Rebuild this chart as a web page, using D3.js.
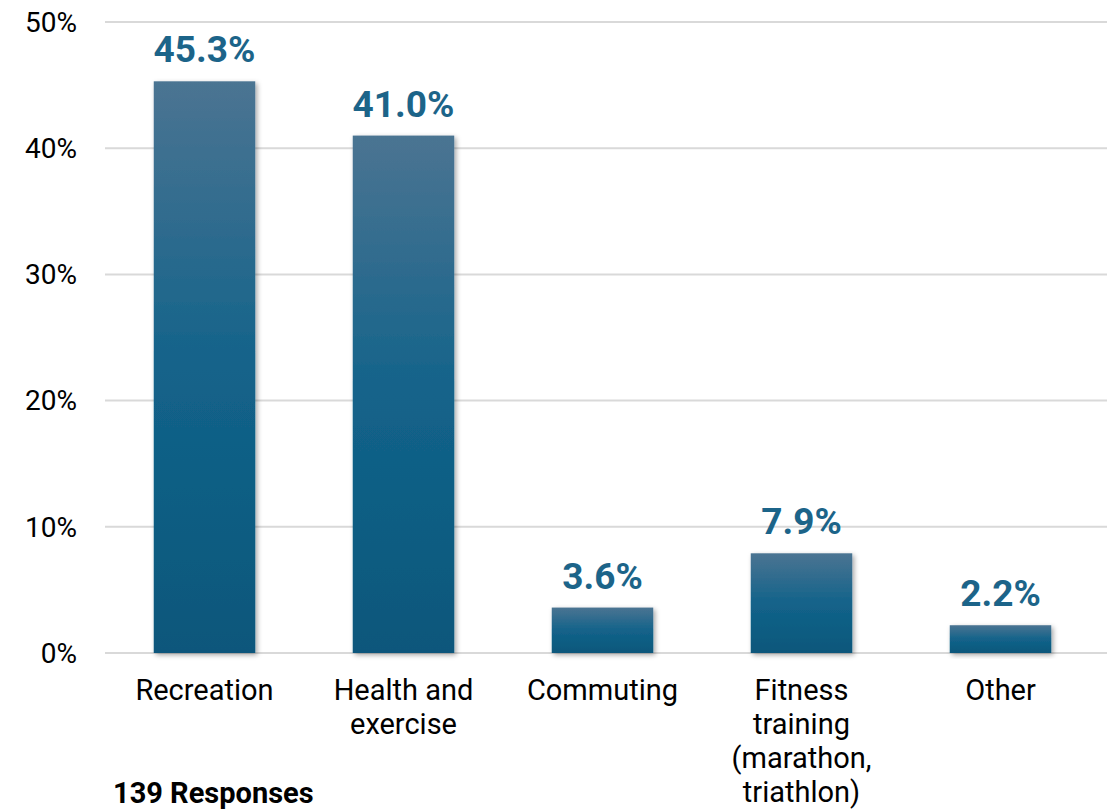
<!DOCTYPE html>
<html>
<head>
<meta charset="utf-8">
<script src="https://cdn.jsdelivr.net/npm/d3@7"></script>
<style>
  body { margin: 0; background: #fff; }
  svg { display: block; font-family: Roboto, sans-serif; }
</style>
</head>
<body>
<svg id="chart" width="1107" height="811"></svg>
<script>
var categories = ["Recreation", "Health and\nexercise", "Commuting", "Fitness\ntraining\n(marathon,\ntriathlon)", "Other"];
var values = [45.3, 41.0, 3.6, 7.9, 2.2];
var yTicks = [0, 10, 20, 30, 40, 50];
var note = "139 Responses";

var svg = d3.select("#chart");

var x = d3.scaleBand()
  .domain(categories)
  .range([105, 1100])
  .paddingInner(0.49)
  .paddingOuter(0.245);

var y = d3.scaleLinear()
  .domain([0, 50])
  .range([653, 22]);

var defs = svg.append("defs");
var grad = defs.append("linearGradient")
  .attr("id", "barGrad")
  .attr("x1", 0).attr("y1", 0).attr("x2", 0).attr("y2", 1);
grad.append("stop").attr("offset", "0%").attr("stop-color", "#4b7492");
grad.append("stop").attr("offset", "50%").attr("stop-color", "#13638a");
grad.append("stop").attr("offset", "100%").attr("stop-color", "#0a577b");

var shadow = defs.append("filter")
  .attr("id", "shadow")
  .attr("x", "-20%").attr("y", "-20%").attr("width", "140%").attr("height", "140%");
shadow.append("feDropShadow")
  .attr("dx", 2).attr("dy", 2)
  .attr("stdDeviation", 2.5)
  .attr("flood-color", "#000")
  .attr("flood-opacity", 0.35);

// gridlines
svg.append("g")
  .selectAll("line")
  .data(yTicks)
  .enter()
  .append("line")
    .attr("x1", 105)
    .attr("x2", 1107)
    .attr("y1", function(d){ return y(d); })
    .attr("y2", function(d){ return y(d); })
    .attr("stroke", "#d9d9d9")
    .attr("stroke-width", 2);

// y tick labels
svg.append("g")
  .selectAll("text")
  .data(yTicks)
  .enter()
  .append("text")
    .attr("x", 77)
    .attr("y", function(d){ return y(d); })
    .attr("dy", ".35em")
    .attr("text-anchor", "end")
    .attr("font-size", "28px")
    .attr("fill", "#000")
    .text(function(d){ return d + "%"; });

// bars
svg.append("g")
  .selectAll("rect")
  .data(values)
  .enter()
  .append("rect")
    .attr("x", function(d, i){ return x(categories[i]); })
    .attr("y", function(d){ return y(d); })
    .attr("width", x.bandwidth())
    .attr("height", function(d){ return y(0) - y(d); })
    .attr("fill", "url(#barGrad)")
    .attr("filter", "url(#shadow)");

// value labels
svg.append("g")
  .selectAll("text")
  .data(values)
  .enter()
  .append("text")
    .attr("x", function(d, i){ return x(categories[i]) + x.bandwidth() / 2; })
    .attr("y", function(d){ return y(d) - 19; })
    .attr("text-anchor", "middle")
    .attr("font-size", "37px")
    .attr("font-weight", "bold")
    .attr("fill", "#1c6489")
    .text(function(d){ return d.toFixed(1) + "%"; });

// category labels
var cat = svg.append("g")
  .selectAll("text")
  .data(categories)
  .enter()
  .append("text")
    .attr("x", function(d){ return x(d) + x.bandwidth() / 2; })
    .attr("y", 700)
    .attr("text-anchor", "middle")
    .attr("font-size", "29px")
    .attr("fill", "#000");
cat.selectAll("tspan")
  .data(function(d){ return d.split("\n"); })
  .enter()
  .append("tspan")
    .attr("x", function(){ return d3.select(this.parentNode).attr("x"); })
    .attr("dy", function(d, i){ return i === 0 ? 0 : 34; })
    .text(function(d){ return d; });

svg.append("text")
  .attr("x", 113)
  .attr("y", 803)
  .attr("font-size", "29px")
  .attr("font-weight", "bold")
  .attr("fill", "#000")
  .text(note);
</script>
</body>
</html>
